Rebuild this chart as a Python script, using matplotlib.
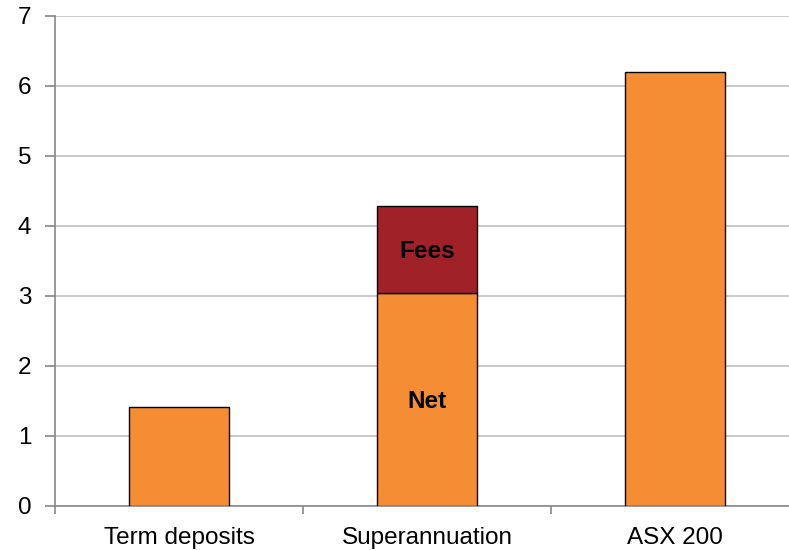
import matplotlib.pyplot as plt
import numpy as np

categories = ["Term deposits", "Superannuation", "ASX 200"]
net_values = [1.42, 3.05, 6.2]
fee_values = [0, 1.23, 0]

orange = "#F58D35"
fee_red = "#A02228"

plt.rcParams['font.family'] = ['Liberation Sans', 'DejaVu Sans']

fig = plt.figure(figsize=(7.89, 5.5), dpi=100)
ax = fig.add_axes([55 / 789, 44 / 550, 744 / 789, 490 / 550])

x = np.arange(len(categories))
ax.bar(x, net_values, width=0.4, color=orange, edgecolor="black", linewidth=1, zorder=3)
ax.bar(x[1], fee_values[1], bottom=net_values[1], width=0.4, color=fee_red,
       edgecolor="black", linewidth=1, zorder=3)

ax.text(x[1], net_values[1] / 2 - 0.03, "Net", ha="center", va="center",
        fontsize=17.5, fontweight="bold", zorder=4)
ax.text(x[1], net_values[1] + fee_values[1] / 2 - 0.03, "Fees", ha="center", va="center",
        fontsize=17.5, fontweight="bold", zorder=4)

ax.set_xlim(-0.5, 2.5)
ax.set_ylim(0, 7)
ax.set_yticks(range(0, 8))
ax.yaxis.grid(True, color="#c0c0c0", linewidth=1.2, zorder=0)

# category labels centred, ticks on boundaries
ax.set_xticks(x)
ax.set_xticklabels(categories, fontsize=17.5)
ax.tick_params(axis="x", which="major", length=0, pad=15)
ax.set_xticks([-0.5, 0.5, 1.5, 2.5], minor=True)
ax.tick_params(axis="x", which="minor", length=6, color="#888888", width=1.2)
ax.tick_params(axis="y", labelsize=17.5, length=7, color="#888888", width=1.2, pad=10)

for side in ["top", "right"]:
    ax.spines[side].set_visible(False)
for side in ["left", "bottom"]:
    ax.spines[side].set_color("#888888")
    ax.spines[side].set_linewidth(1.2)

fig.savefig("out.png", dpi=100)
